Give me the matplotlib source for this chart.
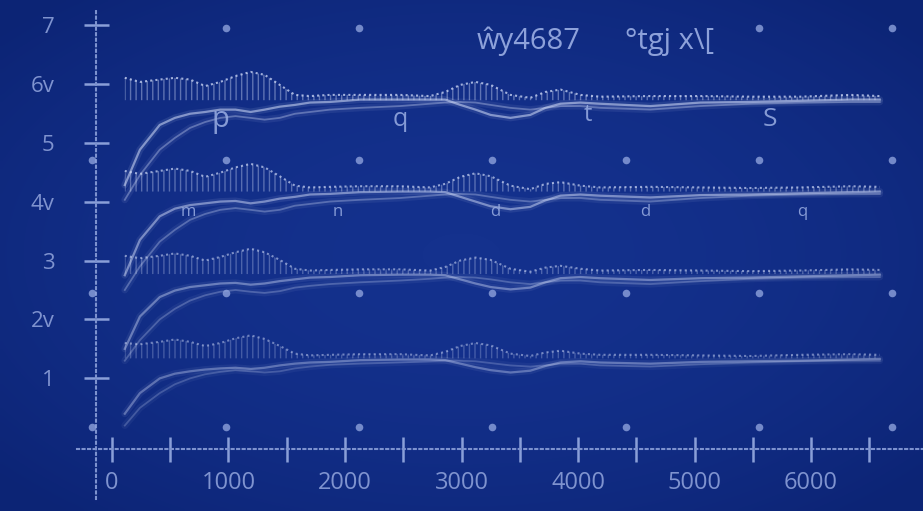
import matplotlib
matplotlib.use("Agg")
import numpy as np
import matplotlib.pyplot as plt
from matplotlib.colors import LinearSegmentedColormap
from matplotlib.ticker import FixedLocator

# sample positions along the time axis
xs = [110, 240, 410, 540, 670, 800, 930, 1060, 1190, 1310, 1440, 1570, 1700, 1870, 2130, 2470,
      2730, 2860, 2990, 3120, 3250, 3420, 3590, 3720, 3850, 4020, 4190, 4620, 5050, 5480, 5910, 6340, 6590]

# group 1 (around 6v)
wave1 = [6.10, 6.03, 6.07, 6.10, 6.07, 5.96, 6.03, 6.13, 6.20, 6.15, 5.98, 5.81, 5.79, 5.81, 5.81, 5.81,
         5.79, 5.86, 5.98, 6.03, 5.98, 5.81, 5.76, 5.86, 5.90, 5.81, 5.78, 5.79, 5.79, 5.78, 5.78, 5.81, 5.79]
smoothA1 = [4.28, 4.88, 5.30, 5.42, 5.49, 5.52, 5.56, 5.56, 5.52, 5.56, 5.61, 5.64, 5.68, 5.69, 5.73, 5.73,
            5.73, 5.73, 5.64, 5.56, 5.47, 5.42, 5.47, 5.59, 5.66, 5.68, 5.66, 5.62, 5.68, 5.69, 5.71, 5.73, 5.73]
smoothB1 = [4.03, 4.45, 4.88, 5.08, 5.25, 5.35, 5.42, 5.45, 5.42, 5.39, 5.42, 5.49, 5.52, 5.56, 5.59, 5.62,
            5.66, 5.68, 5.69, 5.68, 5.64, 5.59, 5.56, 5.59, 5.62, 5.62, 5.59, 5.56, 5.62, 5.66, 5.68, 5.69, 5.69]

# group 2 (around 4v)
wave2 = [4.52, 4.47, 4.52, 4.56, 4.52, 4.42, 4.49, 4.58, 4.64, 4.58, 4.43, 4.27, 4.24, 4.25, 4.26, 4.26,
         4.24, 4.30, 4.42, 4.48, 4.43, 4.27, 4.21, 4.30, 4.33, 4.27, 4.24, 4.25, 4.24, 4.23, 4.24, 4.26, 4.25]
smoothA2 = [2.75, 3.35, 3.75, 3.88, 3.94, 3.97, 4.00, 4.01, 3.97, 4.00, 4.05, 4.08, 4.12, 4.13, 4.16, 4.17,
            4.17, 4.16, 4.08, 4.00, 3.92, 3.87, 3.91, 4.02, 4.10, 4.12, 4.10, 4.07, 4.11, 4.12, 4.14, 4.16, 4.17]
smoothB2 = [2.50, 2.90, 3.32, 3.52, 3.69, 3.79, 3.86, 3.89, 3.86, 3.83, 3.86, 3.93, 3.96, 4.00, 4.03, 4.06,
            4.10, 4.12, 4.13, 4.12, 4.08, 4.03, 4.00, 4.03, 4.06, 4.06, 4.03, 4.00, 4.06, 4.10, 4.12, 4.13, 4.13]

# group 3 (around 3)
wave3 = [3.08, 3.04, 3.08, 3.12, 3.08, 3.00, 3.06, 3.14, 3.20, 3.14, 3.01, 2.86, 2.83, 2.84, 2.85, 2.85,
         2.83, 2.89, 3.00, 3.05, 3.01, 2.86, 2.81, 2.88, 2.91, 2.86, 2.83, 2.84, 2.83, 2.82, 2.83, 2.85, 2.84]
smoothA3 = [1.50, 2.05, 2.38, 2.49, 2.55, 2.58, 2.61, 2.62, 2.59, 2.61, 2.65, 2.68, 2.71, 2.72, 2.75, 2.76,
            2.76, 2.75, 2.68, 2.61, 2.55, 2.51, 2.54, 2.63, 2.70, 2.72, 2.70, 2.67, 2.70, 2.71, 2.73, 2.75, 2.76]
smoothB3 = [1.30, 1.65, 2.00, 2.18, 2.32, 2.41, 2.47, 2.50, 2.47, 2.45, 2.48, 2.54, 2.57, 2.60, 2.63, 2.66,
            2.69, 2.71, 2.72, 2.71, 2.68, 2.63, 2.60, 2.63, 2.66, 2.66, 2.63, 2.60, 2.65, 2.69, 2.71, 2.72, 2.72]

# group 4 (around 1)
wave4 = [1.60, 1.58, 1.62, 1.66, 1.62, 1.55, 1.60, 1.68, 1.73, 1.67, 1.55, 1.42, 1.39, 1.40, 1.41, 1.41,
         1.39, 1.45, 1.55, 1.60, 1.56, 1.42, 1.38, 1.44, 1.47, 1.42, 1.40, 1.40, 1.39, 1.38, 1.40, 1.41, 1.40]
smoothA4 = [0.40, 0.75, 1.00, 1.08, 1.12, 1.15, 1.17, 1.18, 1.16, 1.18, 1.22, 1.25, 1.27, 1.28, 1.31, 1.32,
            1.32, 1.31, 1.25, 1.19, 1.14, 1.10, 1.13, 1.21, 1.27, 1.29, 1.27, 1.25, 1.28, 1.29, 1.30, 1.32, 1.33]
smoothB4 = [0.20, 0.50, 0.75, 0.90, 1.00, 1.07, 1.11, 1.14, 1.12, 1.10, 1.12, 1.17, 1.20, 1.23, 1.25, 1.27,
            1.29, 1.30, 1.30, 1.29, 1.26, 1.22, 1.20, 1.22, 1.25, 1.25, 1.22, 1.20, 1.24, 1.27, 1.29, 1.30, 1.30]

bases = [5.72, 4.17, 2.77, 1.34]
trace_alpha = [1.0, 0.9, 0.75, 0.65]

# dot grid in the background
dot_x = [979, 2120, 5554, 6695,
         -172, 979, 2120, 3262, 4412, 5554, 6695,
         -172, 979, 2120, 3262, 4412, 5554, 6695,
         -172, 979, 2120, 3262, 4412, 5554, 6695]
dot_y = [6.95] * 4 + [4.71] * 7 + [2.45] * 7 + [0.17] * 7

# stray letters along the traces
letters = ["p", "q", "t", "S", "m", "n", "d", "d", "q"]
letter_x = [927, 2472, 4086, 5648, 652, 1940, 3288, 4575, 5922]
letter_y = [5.40, 5.40, 5.47, 5.40, 3.83, 3.83, 3.83, 3.83, 3.83]
letter_size = [21, 18, 17, 19, 12, 12, 12, 12, 12]

x_major = [0, 1000, 2000, 3000, 4000, 5000, 6000]
x_minor = [500, 1500, 2500, 3500, 4500, 5500, 6500]
y_ticks = [1, 2, 3, 4, 5, 6, 7]
y_labels = ["1", "2v", "3", "4v", "5", "6v", "7"]
title_left = "ŵy4687"
title_right = "°tgj x\\["

bg = "#112b84"
line_col = "#d4defa"
text_col = "#7f93cf"

plt.rcParams['font.family'] = ['Open Sans', 'DejaVu Sans']
plt.rcParams['hatch.linewidth'] = 1.0

fig = plt.figure(figsize=(9.23, 5.11), dpi=100, facecolor=bg)
ax = fig.add_axes([0, 0, 1, 1], facecolor=bg)
ax.set_xlim(-961, 6961)
ax.set_ylim(-1.25, 7.42)

# soft vignette behind everything
gx, gy = np.meshgrid(np.linspace(-1, 1, 200), np.linspace(-1, 1, 120))
shade = np.clip(1 - 0.55 * (gx ** 2 + gy ** 2), 0, 1)
vign = LinearSegmentedColormap.from_list("vign", ["#0c2475", "#14318d"])
ax.imshow(shade, cmap=vign, extent=[0, 1, 0, 1], transform=ax.transAxes,
          aspect='auto', zorder=0, interpolation='bilinear')

groups = [(wave1, smoothA1, smoothB1), (wave2, smoothA2, smoothB2),
          (wave3, smoothA3, smoothB3), (wave4, smoothA4, smoothB4)]

for (wave, sa, sb), base, ga in zip(groups, bases, trace_alpha):
    # soft glow under the smooth traces
    ax.plot(xs, sb, color=line_col, lw=5, alpha=0.08 * ga, solid_capstyle='round')
    ax.plot(xs, sb, color=line_col, lw=1.3, alpha=0.35 * ga)
    ax.plot(xs, sa, color=line_col, lw=5, alpha=0.10 * ga, solid_capstyle='round')
    ax.plot(xs, sa, color=line_col, lw=1.6, alpha=0.55 * ga)
    # vertical stems hanging off the wave
    ax.fill_between(xs, base, wave, where=[w >= base for w in wave], interpolate=True,
                    facecolor='none', edgecolor=(0.83, 0.87, 0.98, 0.40 * ga), hatch='|||', linewidth=0)
    ax.plot(xs, wave, color=line_col, lw=1.5, alpha=0.75 * ga, ls=(0, (1, 1.5)))

ax.scatter(dot_x, dot_y, s=30, color="#8ea2dc", alpha=0.8, linewidths=0, zorder=3)

for t, lx, ly, fs in zip(letters, letter_x, letter_y, letter_size):
    ax.text(lx, ly, t, color="#9aaee3", fontsize=fs, ha='center', va='center', alpha=0.85)

ax.text(3130, 6.72, title_left, color="#8da1da", fontsize=21, ha='left', va='center')
ax.text(4400, 6.72, title_right, color="#8da1da", fontsize=21, ha='left', va='center')

# axes: dotted spines through the origin
for side in ["top", "right"]:
    ax.spines[side].set_visible(False)
ax.spines['left'].set_position(('data', -137))
ax.spines['left'].set_bounds(-1.05, 7.25)
ax.spines['bottom'].set_position(('data', -0.2))
ax.spines['bottom'].set_bounds(-300, 6961)
for side in ["left", "bottom"]:
    ax.spines[side].set_linestyle(':')
    ax.spines[side].set_color("#7d92cf")
    ax.spines[side].set_linewidth(1.5)

ax.xaxis.set_major_locator(FixedLocator(x_major))
ax.xaxis.set_minor_locator(FixedLocator(x_minor))
ax.set_xticklabels([str(v) for v in x_major])
ax.yaxis.set_major_locator(FixedLocator(y_ticks))
ax.set_yticklabels(y_labels)

ax.tick_params(axis='x', which='both', direction='inout', length=18, width=1.8,
               color="#8a9fd8", labelcolor=text_col, labelsize=17, pad=7)
ax.tick_params(axis='y', which='major', direction='inout', length=18, width=1.8,
               color="#8a9fd8", labelcolor=text_col, labelsize=16, pad=21)

plt.savefig("out.png", dpi=100, facecolor=bg)
